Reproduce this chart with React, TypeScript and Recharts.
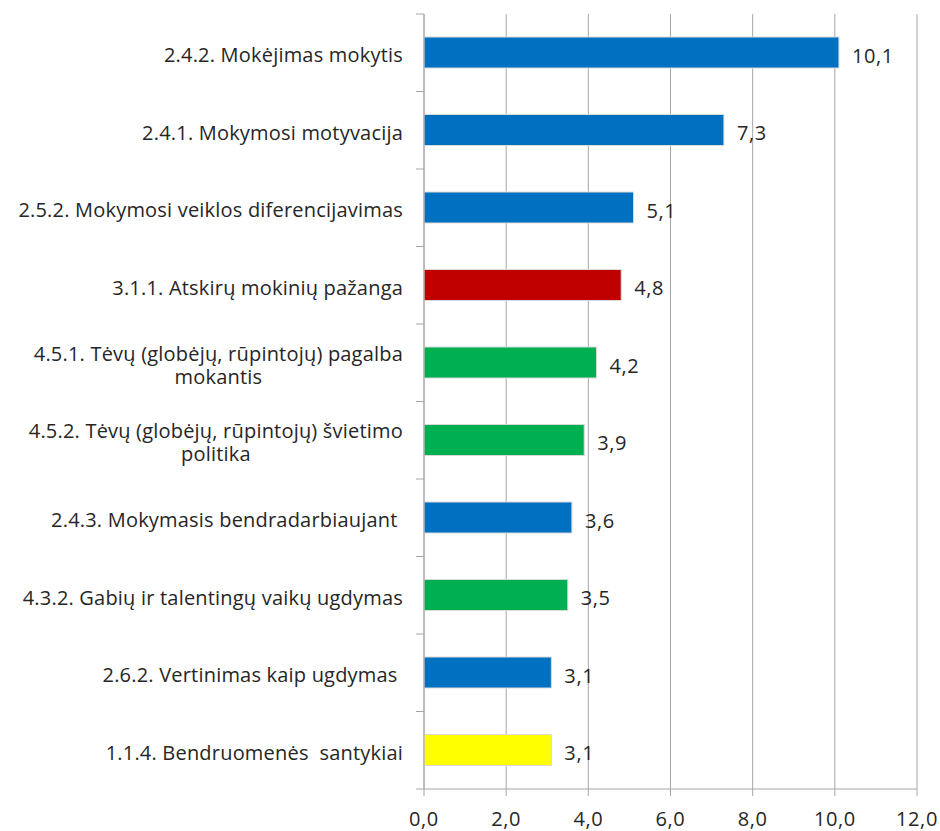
import React from "react";
import { BarChart, Bar, XAxis, YAxis, CartesianGrid, Cell, LabelList } from "recharts";

// categories top to bottom (line breaks where the original wraps)
const categories = [
  "2.4.2. Mokėjimas mokytis",
  "2.4.1. Mokymosi motyvacija",
  "2.5.2. Mokymosi veiklos diferencijavimas",
  "3.1.1. Atskirų mokinių pažanga",
  "4.5.1. Tėvų (globėjų, rūpintojų) pagalba\nmokantis",
  "4.5.2. Tėvų (globėjų, rūpintojų) švietimo\npolitika",
  "2.4.3. Mokymasis bendradarbiaujant ",
  "4.3.2. Gabių ir talentingų vaikų ugdymas",
  "2.6.2. Vertinimas kaip ugdymas ",
  "1.1.4. Bendruomenės  santykiai",
];
const values = [10.1, 7.3, 5.1, 4.8, 4.2, 3.9, 3.6, 3.5, 3.1, 3.1];
const xTicks = [0, 2, 4, 6, 8, 10, 12];

// colour by area (first digit of the code)
const areaColors: Record<string, string> = {
  "1": "#FFFF00",
  "2": "#0070C0",
  "3": "#C00000",
  "4": "#00B050",
};

const data = categories.map((name, i) => ({ name, value: values[i] }));

const FONT = "'Open Sans', sans-serif";
const TEXT = "#262626";
const GRID = "#a6a6a6";
const fmt = (v: number) => v.toFixed(1).replace(".", ",");

const CategoryTick = (props: any) => {
  const { x, y, payload, height, index } = props;
  const band = height / categories.length;
  const axisX = x + 21;
  return (
    <g>
      <line x1={axisX - 8} x2={axisX} y1={y - band / 2} y2={y - band / 2} stroke={GRID} />
      {index === categories.length - 1 && (
        <line x1={axisX - 8} x2={axisX} y1={y + band / 2} y2={y + band / 2} stroke={GRID} />
      )}
      <foreignObject x={x - 420} y={y - 30} width={420} height={64}>
        <div
          style={{
            width: "100%",
            height: "100%",
            display: "flex",
            alignItems: "center",
            justifyContent: "flex-end",
          }}
        >
          <div
            style={{
              textAlign: "center",
              whiteSpace: "pre",
              fontFamily: FONT,
              fontSize: 20,
              lineHeight: "23px",
              letterSpacing: "0.2px",
              color: TEXT,
            }}
          >
            {payload.value}
          </div>
        </div>
      </foreignObject>
    </g>
  );
};

export default function App() {
  return (
    <div style={{ position: "absolute", left: 0, top: 0, background: "#fff" }}>
      <BarChart
        width={940}
        height={831}
        data={data}
        layout="vertical"
        margin={{ top: 14, right: 23, bottom: 0, left: 0 }}
      >
        <CartesianGrid horizontal={false} stroke={GRID} />
        <XAxis
          type="number"
          domain={[0, 12]}
          ticks={xTicks}
          interval={0}
          tickFormatter={fmt}
          height={42}
          tickSize={7}
          tickMargin={16}
          stroke={GRID}
          tick={{ fill: TEXT, fontSize: 20, fontFamily: FONT, letterSpacing: 0.6 }}
        />
        <YAxis
          type="category"
          dataKey="name"
          width={424}
          tickSize={8}
          tickMargin={13}
          tickLine={false}
          stroke={GRID}
          interval={0}
          tick={<CategoryTick />}
        />
        <Bar dataKey="value" barSize={31} stroke="#d9d9d9" strokeWidth={1} isAnimationActive={false}>
          {data.map((d, i) => (
            <Cell key={i} fill={areaColors[d.name.charAt(0)]} />
          ))}
          <LabelList
            dataKey="value"
            position="right"
            offset={13}
            dy={3}
            formatter={(v: any) => fmt(Number(v))}
            style={{ fill: TEXT, fontSize: 20, fontFamily: FONT, letterSpacing: 0.6 }}
          />
        </Bar>
      </BarChart>
    </div>
  );
}
